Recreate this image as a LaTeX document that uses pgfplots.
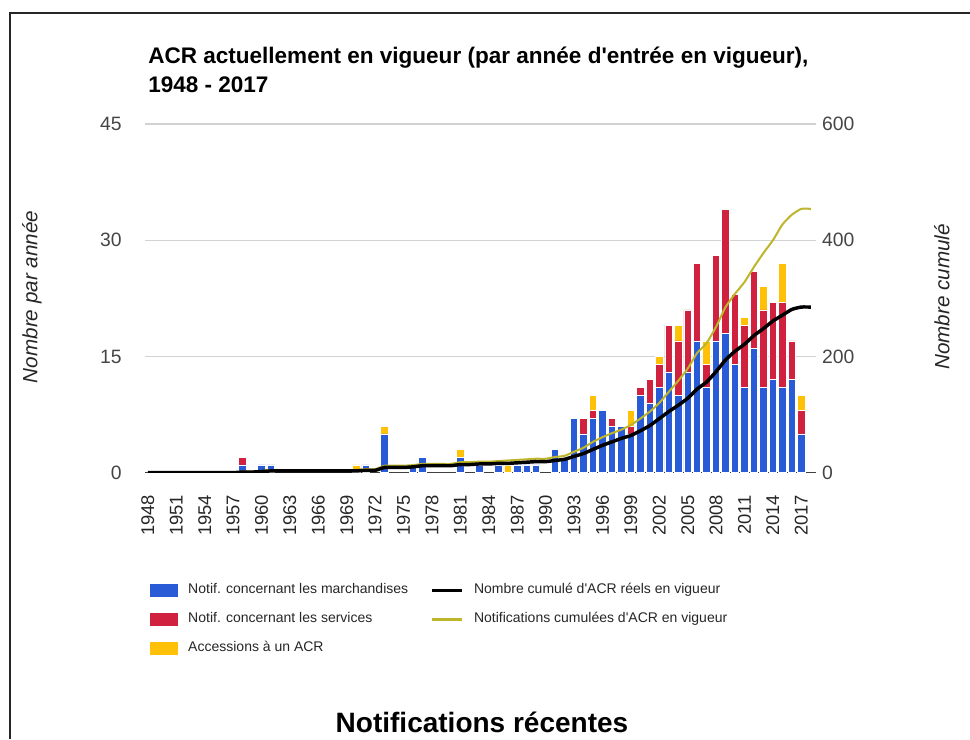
\documentclass[border=0pt]{standalone}
\usepackage{pgfplots}
\pgfplotsset{compat=1.18}
\usepackage{pgfplotstable}
\usepackage{fontspec}
\setmainfont{Liberation Sans}[Ligatures=TeXOff]

\definecolor{cgoods}{HTML}{2A5BD7}
\definecolor{cserv}{HTML}{D0213F}
\definecolor{cacc}{HTML}{FFC107}
\definecolor{colive}{HTML}{BDB52A}
\definecolor{cgrid}{HTML}{D2D2D2}
\definecolor{ctick}{HTML}{454545}

% notifications par annee: marchandises, services, accessions
\pgfplotstableread{
year goods services access
1948 0 0 0
1949 0 0 0
1950 0 0 0
1951 0 0 0
1952 0 0 0
1953 0 0 0
1954 0 0 0
1955 0 0 0
1956 0 0 0
1957 0 0 0
1958 1 1 0
1959 0 0 0
1960 1 0 0
1961 1 0 0
1962 0 0 0
1963 0 0 0
1964 0 0 0
1965 0 0 0
1966 0 0 0
1967 0 0 0
1968 0 0 0
1969 0 0 0
1970 0 0 1
1971 1 0 0
1972 0 0 0
1973 5 0 1
1974 0 0 0
1975 0 0 0
1976 1 0 0
1977 2 0 0
1978 0 0 0
1979 0 0 0
1980 0 0 0
1981 2 0 1
1982 0 0 0
1983 1 0 0
1984 0 0 0
1985 1 0 0
1986 0 0 1
1987 1 0 0
1988 1 0 0
1989 1 0 0
1990 0 0 0
1991 3 0 0
1992 2 0 0
1993 7 0 0
1994 5 2 0
1995 7 1 2
1996 8 0 0
1997 6 1 0
1998 6 0 0
1999 5 1 2
2000 10 1 0
2001 9 3 0
2002 11 3 1
2003 13 6 0
2004 10 7 2
2005 13 8 0
2006 17 10 0
2007 11 3 3
2008 17 11 0
2009 18 16 0
2010 14 9 0
2011 11 8 1
2012 16 10 0
2013 11 10 3
2014 12 10 0
2015 11 11 5
2016 12 5 0
2017 5 3 2
}\bars

% cumuls (axe de droite)
\pgfplotstableread{
year real notif
1948 0 0
1949 0 0
1950 0 0
1951 0 0
1952 0 0
1953 0 0
1954 0 0
1955 0 0
1956 0 0
1957 0 0
1958 1 2
1959 1 2
1960 2 3
1961 3 4
1962 3 4
1963 3 4
1964 3 4
1965 3 4
1966 3 4
1967 3 4
1968 3 4
1969 3 4
1970 3 5
1971 4 6
1972 4 6
1973 9 12
1974 9 12
1975 9 12
1976 10 13
1977 12 15
1978 12 15
1979 12 15
1980 12 15
1981 14 18
1982 14 18
1983 15 19
1984 15 19
1985 16 20
1986 16 21
1987 17 22
1988 18 23
1989 19 24
1990 19 24
1991 21 27
1992 23 29
1993 28 36
1994 33 43
1995 40 53
1996 47 61
1997 53 68
1998 59 74
1999 64 82
2000 72 93
2001 81 105
2002 93 120
2003 105 139
2004 116 158
2005 128 179
2006 144 206
2007 156 223
2008 174 251
2009 194 285
2010 209 308
2011 221 328
2012 236 354
2013 248 378
2014 261 400
2015 271 427
2016 281 444
2017 285 454
2018 285 454
}\cumul

\pgfplotsset{
  common/.style={
    at={(108.75pt,-354.5pt)}, anchor=south west,
    scale only axis, width=503.6pt, height=261.5pt,
    xmin=1947.7, xmax=2018.6,
    /pgf/number format/assume math mode=true,
    /pgf/number format/1000 sep={},
    scaled ticks=false,
    major tick length=0pt,
    yticklabel style={font=\fontsize{14.5}{16}\selectfont, color=ctick, inner sep=0pt},
    every axis y label/.style={rotate=90, anchor=center,
      font=\itshape\fontsize{15.5}{18}\selectfont, color=black!85},
  },
  swatch/.style={legend image code/.code={\fill[##1] (0pt,-4.9pt) rectangle (21pt,4.9pt);}},
  lineswatch/.style={legend image code/.code={\draw[##1] (0pt,0pt) -- (22.5pt,0pt);}},
}

\begin{document}
\begin{tikzpicture}
\path[use as bounding box] (0,0) rectangle (727.5pt,-554.25pt);
\draw[line width=1.5pt, color=black!85] (7.5pt,-554.25pt) -- (7.5pt,-9.75pt) -- (727.5pt,-9.75pt);

\node[anchor=base west, inner sep=0pt, font=\bfseries\fontsize{16.9}{20}\selectfont]
  at (111pt,-47.25pt) {ACR actuellement en vigueur (par année d'entrée en vigueur),};
\node[anchor=base west, inner sep=0pt, font=\bfseries\fontsize{16.9}{20}\selectfont]
  at (111pt,-69pt) {1948 - 2017};

\begin{axis}[
  common,
  ybar stacked, bar width=0.79,
  axis lines*=left, axis line style={draw=none},
  ymin=0, ymax=45, ytick={0,15,30,45},
  ymajorgrids, grid style={color=cgrid, line width=1pt},
  yticklabel shift=17.25pt,
  xtick={1948,1951,...,2017},
  xticklabel style={rotate=90, anchor=east, inner sep=0pt,
    font=\fontsize{13.8}{15}\selectfont, color=black!85},
  xticklabel shift=16.5pt,
  ylabel={Nombre par année},
  ylabel style={at={(axis description cs:-0.1683,0.504)}},
]
\addplot[fill=cgoods, draw=white, line width=0.6pt] table[x=year, y=goods] {\bars};
\addplot[fill=cserv, draw=white, line width=0.6pt] table[x=year, y=services] {\bars};
\addplot[fill=cacc, draw=white, line width=0.6pt] table[x=year, y=access] {\bars};
\draw[color=black!75, line width=1.5pt] (rel axis cs:0,0) -- (rel axis cs:1,0);
\end{axis}

\begin{axis}[
  common,
  axis y line*=right, axis x line=none, y axis line style={draw=none},
  xtick=\empty,
  ymin=0, ymax=600, ytick={0,200,400,600},
  yticklabel shift=4pt,
  ylabel={Nombre cumulé},
  ylabel style={at={(axis description cs:1.1869,0.504)}},
  legend columns=2,
  legend cell align=left,
  legend style={at={(axis description cs:0.0074,-0.3135)}, anchor=north west,
    draw=none, fill=none, inner sep=0pt,
    font=\fontsize{10.5}{12}\selectfont, text=black!85,
    column sep=6.5pt, row sep=9.75pt,
    nodes={inner sep=1pt, text height=7.8pt, text depth=2.2pt},
    /tikz/every even column/.append style={column sep=16pt}},
]
\addlegendimage{swatch, fill=cgoods, draw=none}
\addlegendentry{Notif. concernant les marchandises}
\addlegendimage{lineswatch, draw=black, line width=2.4pt}
\addlegendentry{Nombre cumulé d'ACR réels en vigueur}
\addlegendimage{swatch, fill=cserv, draw=none}
\addlegendentry{Notif. concernant les services}
\addlegendimage{lineswatch, draw=colive, line width=2pt}
\addlegendentry{Notifications cumulées d'ACR en vigueur}
\addlegendimage{swatch, fill=cacc, draw=none}
\addlegendentry{Accessions à un ACR}
\addplot[colive, line width=1.5pt, smooth, tension=0.3, forget plot] table[x=year, y=notif] {\cumul};
\addplot[black, line width=2.6pt, smooth, tension=0.3, forget plot] table[x=year, y=real] {\cumul};
\end{axis}

\node[anchor=base, inner sep=0pt, font=\bfseries\fontsize{21}{24}\selectfont]
  at (361.5pt,-549pt) {Notifications récentes};
\end{tikzpicture}
\end{document}
